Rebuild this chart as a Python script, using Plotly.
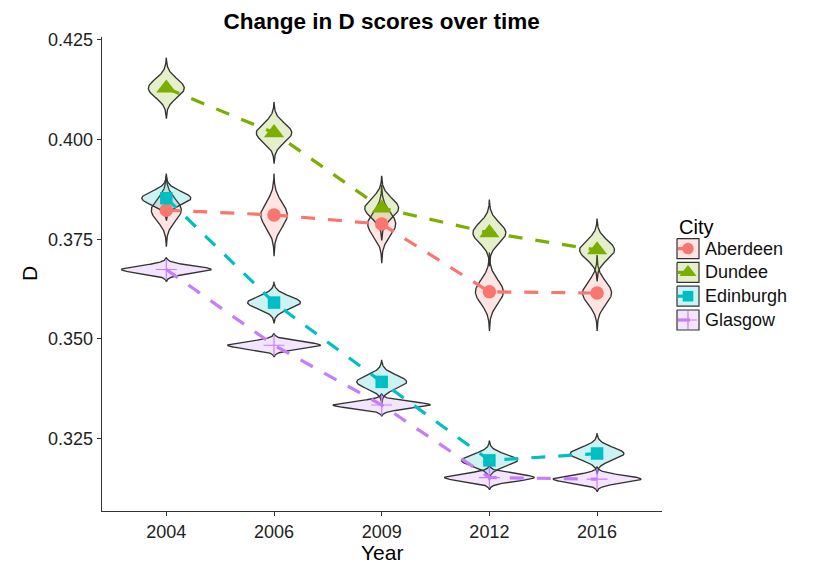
import numpy as np
import plotly.graph_objects as go

# ---------------- data ----------------
years = ["2004", "2006", "2009", "2012", "2016"]
cities = ["Aberdeen", "Dundee", "Edinburgh", "Glasgow"]

# D score (point / centre of each violin)
aberdeen_d = [0.3823, 0.3811, 0.3788, 0.3618, 0.3615]
dundee_d = [0.4129, 0.4017, 0.3828, 0.3766, 0.3723]
edinburgh_d = [0.3853, 0.3591, 0.3392, 0.3195, 0.3212]
glasgow_d = [0.3674, 0.3484, 0.3334, 0.3152, 0.3148]

# spread (sd) of each distribution shown by the violins
aberdeen_sd = [0.00278, 0.00314, 0.00298, 0.00298, 0.00288]
dundee_sd = [0.00232, 0.00235, 0.00246, 0.00253, 0.00239]
edinburgh_sd = [0.00170, 0.00158, 0.00167, 0.00149, 0.00155]
glasgow_sd = [0.00093, 0.00090, 0.00086, 0.00093, 0.00095]

y_ticks = [0.325, 0.350, 0.375, 0.400, 0.425]
y_ticktext = ["0.325", "0.350", "0.375", "0.400", "0.425"]

# ---------------- styling / layout ----------------
OFF = 8                       # page body margin of the html page
W, H = 818 - OFF, 569 - OFF   # figure size so that it fills the window


def px(v):
    """window pixel -> figure pixel"""
    return v - OFF


colors = ["#F8766D", "#7CAE00", "#00BFC4", "#C77CFF"]
fills = ["rgba(248,118,109,0.2)", "rgba(124,174,0,0.2)",
         "rgba(0,191,196,0.2)", "rgba(199,124,255,0.2)"]
symbols = ["circle", "triangle-up", "square", "cross-thin"]
msizes = [13.5, 17.5, 12.5, 15]
FONT = "Liberation Sans, Arial, Helvetica, sans-serif"
OUTLINE = "#333333"
DASH = "14px,13px"

means = [aberdeen_d, dundee_d, edinburgh_d, glasgow_d]
sds = [aberdeen_sd, dundee_sd, edinburgh_sd, glasgow_sd]
xpos = list(range(len(years)))

# plot area in window pixels
pl, pr, pt, pb = px(101.7), px(661.7), px(36.8), px(511.0)

fig = go.Figure()

# violins: gaussian-density outlines, scaled so all have equal area (max half width 0.45)
s_min = min(min(s) for s in sds)
K = 3.3
for xi in xpos:
    for ci in range(len(cities)):
        m = means[ci][xi]
        s = sds[ci][xi]
        hw = 0.45 * s_min / s
        ys = np.linspace(m - K * s, m + K * s, 121)
        w = hw * np.exp(-0.5 * ((ys - m) / s) ** 2)
        vx = np.concatenate([xi + w, (xi - w)[::-1], [xi + w[0]]])
        vy = np.concatenate([ys, ys[::-1], [ys[0]]])
        fig.add_trace(go.Scatter(
            x=vx, y=vy, mode="lines", fill="toself", fillcolor=fills[ci],
            line=dict(color=OUTLINE, width=1.35), hoverinfo="skip", showlegend=False))

# dashed lines
for ci, name in enumerate(cities):
    fig.add_trace(go.Scatter(
        x=xpos, y=means[ci], mode="lines", name=name,
        line=dict(color=colors[ci], width=3.2, dash=DASH), showlegend=False))

# points
for ci, name in enumerate(cities):
    mk = dict(symbol=symbols[ci], size=msizes[ci], color=colors[ci])
    if symbols[ci] == "cross-thin":
        mk["line"] = dict(color=colors[ci], width=1.2)
    else:
        mk["line"] = dict(width=0)
    fig.add_trace(go.Scatter(x=xpos, y=means[ci], mode="markers", marker=mk,
                             name=name, showlegend=False))

# ---------------- legend (drawn in a pixel coordinate system) ----------------
key_x0, key_x1 = px(677), px(699)
key_y0, key_pitch, key_h = px(248.6), 23.8, 20
for ci, name in enumerate(cities):
    cy = key_y0 + ci * key_pitch
    fig.add_trace(go.Scatter(
        x=[key_x0, key_x1, key_x1, key_x0, key_x0],
        y=[cy - key_h / 2, cy - key_h / 2, cy + key_h / 2, cy + key_h / 2, cy - key_h / 2],
        mode="lines", fill="toself", fillcolor=fills[ci],
        line=dict(color=OUTLINE, width=1.2), xaxis="x2", yaxis="y2",
        hoverinfo="skip", showlegend=False))
for ci, name in enumerate(cities):
    cy = key_y0 + ci * key_pitch
    xc = (key_x0 + key_x1) / 2
    fig.add_trace(go.Scatter(
        x=[key_x0 + 1, xc + 2], y=[cy, cy], mode="lines",
        line=dict(color=colors[ci], width=3.2), xaxis="x2", yaxis="y2",
        hoverinfo="skip", showlegend=False))
    mk = dict(symbol=symbols[ci], size=msizes[ci] * 0.85, color=colors[ci])
    if symbols[ci] == "cross-thin":
        mk["line"] = dict(color=colors[ci], width=1.2)
    else:
        mk["line"] = dict(width=0)
    fig.add_trace(go.Scatter(x=[xc], y=[cy], mode="markers", marker=mk,
                             xaxis="x2", yaxis="y2", hoverinfo="skip", showlegend=False))
    fig.add_annotation(x=key_x1 + 4, y=cy, xref="x2", yref="y2", text=name,
                       showarrow=False, xanchor="left", yanchor="middle",
                       font=dict(family=FONT, size=18, color="#111111"))

fig.add_annotation(x=key_x0, y=px(227), xref="x2", yref="y2", text="City",
                   showarrow=False, xanchor="left", yanchor="middle",
                   font=dict(family=FONT, size=20, color="#000000"))

# axis titles
fig.add_annotation(x=(pl + pr) / 2, y=px(552), xref="x2", yref="y2", text="Year",
                   showarrow=False, xanchor="center", yanchor="middle",
                   font=dict(family=FONT, size=21, color="#000000"))
fig.add_annotation(x=px(30), y=(pt + pb) / 2, xref="x2", yref="y2", text="D",
                   textangle=-90, showarrow=False, xanchor="center", yanchor="middle",
                   font=dict(family=FONT, size=21, color="#000000"))

axis_common = dict(showgrid=False, zeroline=False, showline=True, linecolor="#333333",
                   linewidth=1.1, ticks="outside", ticklen=4, tickwidth=1.1,
                   automargin=False,
                   tickcolor="#333333", tickfont=dict(family=FONT, size=18, color="#222222"))

fig.update_layout(
    width=W, height=H,
    margin=dict(l=0, r=0, t=0, b=0, pad=0, autoexpand=False),
    plot_bgcolor="rgba(0,0,0,0)", paper_bgcolor="white",
    showlegend=False,
    title=dict(text="<b>Change in D scores over time</b>", x=(pl + pr) / 2 / W,
               xanchor="center", y=1 - px(21) / H, yanchor="middle", yref="container",
               font=dict(family=FONT, size=22.5, color="#000000")),
    xaxis=dict(domain=[pl / W, pr / W], range=[-0.6, 4.6],
               tickvals=xpos, ticktext=years, anchor="y", **axis_common),
    yaxis=dict(domain=[1 - pb / H, 1 - pt / H], range=[0.3068, 0.4258],
               tickvals=y_ticks, ticktext=y_ticktext, anchor="x", **axis_common),
    xaxis2=dict(domain=[0, 1], range=[0, W], visible=False, anchor="y2", fixedrange=True),
    yaxis2=dict(domain=[0, 1], range=[H, 0], visible=False, anchor="x2", fixedrange=True),
)

fig.write_html("out.html")
